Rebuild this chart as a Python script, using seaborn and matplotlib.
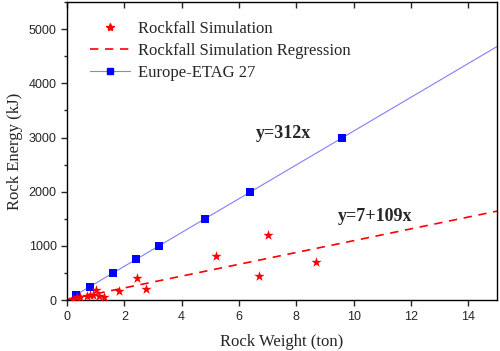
import matplotlib
matplotlib.use("Agg")
import matplotlib.pyplot as plt
import seaborn as sns
import pandas as pd
from matplotlib.lines import Line2D
from matplotlib.ticker import MultipleLocator

# Data
rock_weight = [0.2, 0.35, 0.45, 0.7, 0.8, 0.9, 1.0, 1.1, 1.3, 1.8, 2.45, 2.75, 5.2, 6.7, 7.0, 8.7]
rock_energy = [20, 50, 60, 80, 90, 100, 180, 70, 60, 170, 410, 200, 810, 450, 1200, 700]
etag_weight = [0.32, 0.8, 1.6, 2.4, 3.2, 4.8, 6.4, 9.6]
etag_energy = [100, 250, 500, 750, 1000, 1500, 2000, 3000]
etag_line_x = [0, 15]
etag_line_y = [0, 4680]
reg_x = [0, 15]
reg_y = [7, 1642]

sns.set_style("ticks")
serif = ["Liberation Serif", "DejaVu Serif"]
sans = ["Liberation Sans", "DejaVu Sans"]

fig = plt.figure(figsize=(5.0, 3.51), dpi=100)
ax = fig.add_axes([0.134, 0.145, 0.86, 0.849])

sns.lineplot(x=etag_line_x, y=etag_line_y, ax=ax, color="#7f7fff", linewidth=0.8)
sns.lineplot(x=reg_x, y=reg_y, ax=ax, color="#ff0000", linewidth=1.2, dashes=False)
ax.lines[-1].set_linestyle((0, (5, 4)))
sns.scatterplot(x=etag_weight, y=etag_energy, ax=ax, marker="s", s=36, color="#0000ff",
                edgecolor="#0000ff", linewidth=0, zorder=5)
sns.scatterplot(x=rock_weight, y=rock_energy, ax=ax, marker="*", s=60, color="#ff0000",
                edgecolor="#ff0000", linewidth=0, zorder=6)

ax.set_xlim(0, 15)
ax.set_ylim(0, 5500)
ax.xaxis.set_major_locator(MultipleLocator(2))
ax.yaxis.set_major_locator(MultipleLocator(1000))
ax.yaxis.set_minor_locator(MultipleLocator(500))
ax.tick_params(axis="both", which="major", labelsize=9, length=4, width=1, direction="out")
ax.tick_params(axis="y", which="minor", length=2.5, width=1, direction="out")
for lab in ax.get_xticklabels() + ax.get_yticklabels():
    lab.set_family(sans)
# top ticks inward
ax2 = ax.secondary_xaxis("top")
ax2.xaxis.set_major_locator(MultipleLocator(2))
ax2.tick_params(direction="in", length=4, width=1, labeltop=False)
for sp in ax.spines.values():
    sp.set_linewidth(1.0)
    sp.set_color("black")
ax2.spines["top"].set_visible(False)

ax.set_xlabel("Rock Weight (ton)", family=serif, fontsize=12, labelpad=8)
ax.set_ylabel("Rock Energy (kJ)", family=serif, fontsize=12, labelpad=4)

ax.text(6.6, 3070, "y=312x", family=serif, fontsize=13, fontweight="bold", va="center")
ax.text(9.45, 1535, "y=7+109x", family=serif, fontsize=13, fontweight="bold", va="center")

handles = [
    Line2D([], [], linestyle="none", marker="*", color="#ff0000", markersize=6),
    Line2D([], [], linestyle=(0, (5, 4)), color="#ff0000", linewidth=1.2),
    Line2D([], [], color="#7f7fff", linewidth=0.8, marker="s", markersize=5,
           markerfacecolor="#0000ff", markeredgecolor="#0000ff"),
]
labels = ["Rockfall Simulation", "Rockfall Simulation Regression", "Europe-ETAG 27"]
leg = ax.legend(handles, labels, loc="upper left", bbox_to_anchor=(0.03, 0.97), frameon=False,
                prop={"family": serif, "size": 12}, handlelength=2.4, handletextpad=0.5,
                labelspacing=0.35, borderaxespad=0.2)

fig.savefig("out.png", dpi=100)
